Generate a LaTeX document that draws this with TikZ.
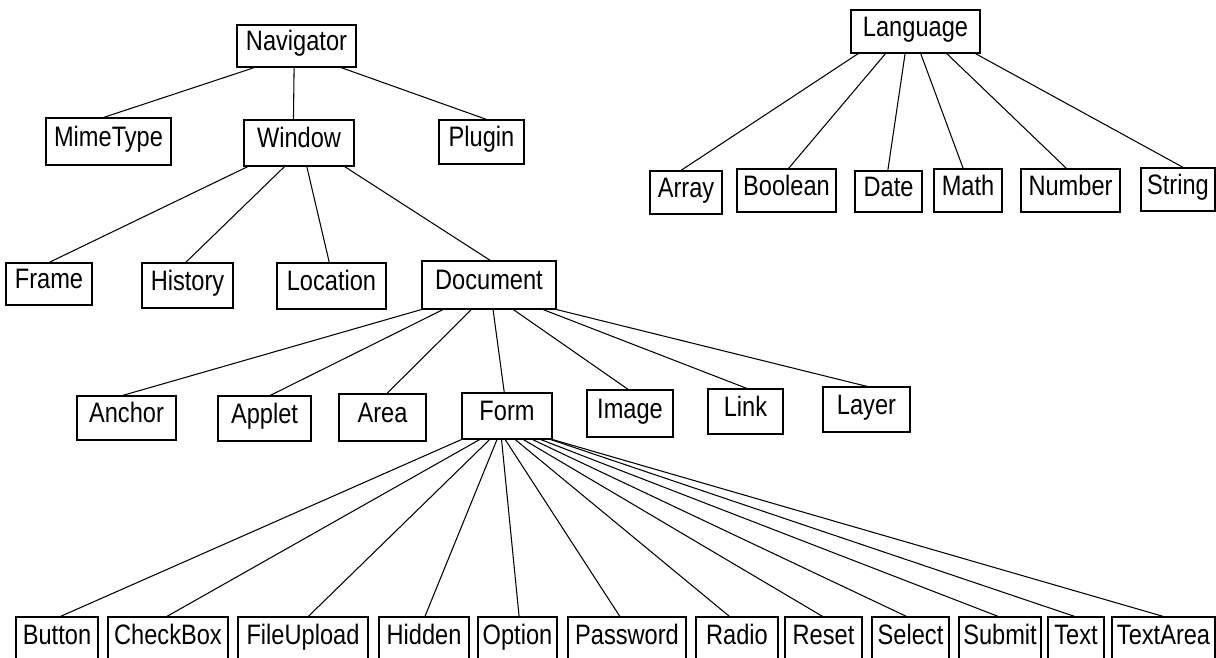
\documentclass[tikz,border=0pt]{standalone}
\usepackage{fontspec}
\setmainfont{Liberation Sans}[FakeStretch=0.84]
\usepackage{tikz}
\usetikzlibrary{calc}

% parent bottom at fraction #2 -> child top at fraction #4
\newcommand{\branch}[4]{\draw ($(#1.south west)!#2!(#1.south east)$) -- ($(#3.north west)!#4!(#3.north east)$);}

\begin{document}
\begin{tikzpicture}[x=0.02cm, y=-0.02cm, line width=0.6pt]
			\tikzstyle{box}=[draw, inner sep=0pt, text height=0.72em, text depth=0.2em, font=\fontsize{16pt}{18pt}\selectfont];
			\tikzstyle{sz}=[minimum width=#1*0.02cm];
			\useasboundingbox (0,0) rectangle (1216,657);
			
			%Navigator
			\node[box, sz=119, minimum height=0.84cm] (nav) at (296.5,46) {Navigator};
			\node[box, sz=125, minimum height=0.94cm] (mime) at (108.5,141.5) {MimeType};
			\node[box, sz=110, minimum height=0.92cm] (win) at (299,143) {Window};
			\node[box, sz=85, minimum height=0.88cm] (plug) at (481.5,142) {Plugin};
			
			%Window
			\node[box, sz=86, minimum height=0.84cm] (frame) at (49,284) {Frame};
			\node[box, sz=91, minimum height=0.90cm] (hist) at (187.5,285.5) {History};
			\node[box, sz=109, minimum height=0.92cm] (loc) at (331.5,286) {Location};
			\node[box, sz=134, minimum height=0.96cm] (doc) at (489,285) {Document};
			
			%Document
			\node[box, sz=99, minimum height=0.88cm] (anchor) at (126.5,418) {Anchor};
			\node[box, sz=93, minimum height=0.90cm] (applet) at (264.5,418.5) {Applet};
			\node[box, sz=87, minimum height=0.94cm] (area) at (382.5,417.5) {Area};
			\node[box, sz=90, minimum height=0.92cm] (form) at (507,416) {Form};
			\node[box, sz=86, minimum height=0.94cm] (image) at (630,413.5) {Image};
			\node[box, sz=75, minimum height=0.90cm] (link) at (745.5,411.5) {Link};
			\node[box, sz=87, minimum height=0.90cm] (layer) at (866.5,409.5) {Layer};
			
			%Form
			\node[box, sz=82, minimum height=0.92cm] (button) at (57,640) {Button};
			\node[box, sz=120, minimum height=0.92cm] (check) at (168,640) {CheckBox};
			\node[box, sz=130, minimum height=0.92cm] (file) at (303,640) {FileUpload};
			\node[box, sz=90, minimum height=0.92cm] (hidden) at (424,640) {Hidden};
			\node[box, sz=79, minimum height=0.92cm] (option) at (517.5,640) {Option};
			\node[box, sz=118, minimum height=0.92cm] (pass) at (627,640) {Password};
			\node[box, sz=82, minimum height=0.92cm] (radio) at (737,640) {Radio};
			\node[box, sz=77, minimum height=0.92cm] (reset) at (823.5,640) {Reset};
			\node[box, sz=77, minimum height=0.92cm] (select) at (910.5,640) {Select};
			\node[box, sz=82, minimum height=0.92cm] (submit) at (1000,640) {Submit};
			\node[box, sz=56, minimum height=0.92cm] (text) at (1076,640) {Text};
			\node[box, sz=103, minimum height=0.92cm] (tarea) at (1163.5,640) {TextArea};
			
			%Language
			\node[box, sz=129, minimum height=0.86cm] (lang) at (915.5,31.5) {Language};
			\node[box, sz=72, minimum height=0.86cm] (array) at (686,192.5) {Array};
			\node[box, sz=99, minimum height=0.86cm] (bool) at (786.5,190.5) {Boolean};
			\node[box, sz=67, minimum height=0.82cm] (date) at (888.5,191.5) {Date};
			\node[box, sz=68, minimum height=0.86cm] (math) at (968,190.5) {Math};
			\node[box, sz=99, minimum height=0.86cm] (num) at (1070.5,190.5) {Number};
			\node[box, sz=74, minimum height=0.86cm] (str) at (1178,189.5) {String};
			
			%Lines
			\branch{nav}{0.15}{mime}{0.46}
			\branch{nav}{0.48}{win}{0.45}
			\branch{nav}{0.87}{plug}{0.56}
			
			\branch{win}{0.04}{frame}{0.5}
			\branch{win}{0.37}{hist}{0.48}
			\branch{win}{0.57}{loc}{0.48}
			\branch{win}{0.91}{doc}{0.51}
			
			\branch{doc}{0}{anchor}{0.46}
			\branch{doc}{0.16}{applet}{0.56}
			\branch{doc}{0.37}{area}{0.55}
			\branch{doc}{0.53}{form}{0.47}
			\branch{doc}{0.68}{image}{0.48}
			\branch{doc}{0.9}{link}{0.52}
			\branch{doc}{1}{layer}{0.51}
			
			\branch{form}{0}{button}{0.54}
			\branch{form}{0.2}{check}{0.49}
			\branch{form}{0.31}{file}{0.54}
			\branch{form}{0.39}{hidden}{0.51}
			\branch{form}{0.44}{option}{0.52}
			\branch{form}{0.48}{pass}{0.44}
			\branch{form}{0.59}{radio}{0.41}
			\branch{form}{0.68}{reset}{0.49}
			\branch{form}{0.78}{select}{0.45}
			\branch{form}{0.87}{submit}{0.48}
			\branch{form}{0.98}{text}{0.48}
			\branch{form}{1}{tarea}{0.5}
			
			\branch{lang}{0.06}{array}{0.43}
			\branch{lang}{0.27}{bool}{0.52}
			\branch{lang}{0.42}{date}{0.49}
			\branch{lang}{0.54}{math}{0.43}
			\branch{lang}{0.74}{num}{0.46}
			\branch{lang}{0.96}{str}{0.57}
\end{tikzpicture}
\end{document}
